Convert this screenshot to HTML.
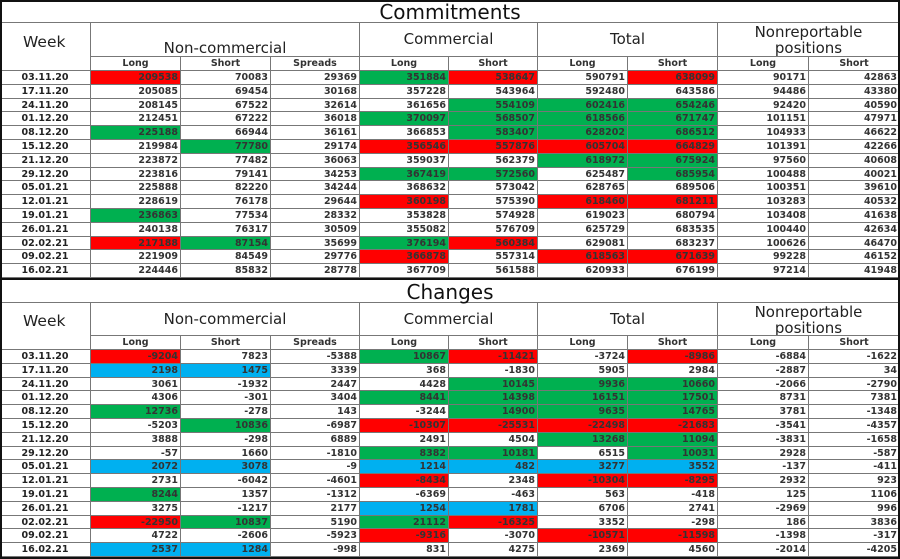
<!DOCTYPE html>
<html><head><meta charset="utf-8"><style>
body{margin:0;width:900px;height:559px;background:#fff;overflow:hidden;font-family:"DejaVu Sans","Liberation Sans",sans-serif;}
#root{position:relative;width:900px;height:559px;}
.c{position:absolute;box-sizing:border-box;border-right:1px solid #777;border-bottom:1px solid #777;font-size:9.5px;font-weight:bold;color:#333;line-height:13px;white-space:nowrap;overflow:hidden;}
.n{text-align:right;padding-right:2px;}
.w{text-align:center;color:#222;}
.sub{text-align:center;font-size:9.5px;color:#333;}
.grp{text-align:center;font-weight:normal;font-size:15px;color:#222;}
.title{position:absolute;left:0;width:900px;text-align:center;font-size:20px;color:#111;box-sizing:border-box;border-bottom:1px solid #777;}
.r{background:#ff0000;}.g{background:#00b050;}.b{background:#00b0f0;}
.frame{position:absolute;border:2px solid #111;box-sizing:border-box;pointer-events:none;}
</style></head><body>
<div id="root"></div>
<script>
const weeks=["03.11.20","17.11.20","24.11.20","01.12.20","08.12.20","15.12.20","21.12.20","29.12.20","05.01.21","12.01.21","19.01.21","26.01.21","02.02.21","09.02.21","16.02.21"];
const commitments=[
[209538,70083,29369,351884,538647,590791,638099,90171,42863],
[205085,69454,30168,357228,543964,592480,643586,94486,43380],
[208145,67522,32614,361656,554109,602416,654246,92420,40590],
[212451,67222,36018,370097,568507,618566,671747,101151,47971],
[225188,66944,36161,366853,583407,628202,686512,104933,46622],
[219984,77780,29174,356546,557876,605704,664829,101391,42266],
[223872,77482,36063,359037,562379,618972,675924,97560,40608],
[223816,79141,34253,367419,572560,625487,685954,100488,40021],
[225888,82220,34244,368632,573042,628765,689506,100351,39610],
[228619,76178,29644,360198,575390,618460,681211,103283,40532],
[236863,77534,28332,353828,574928,619023,680794,103408,41638],
[240138,76317,30509,355082,576709,625729,683535,100440,42634],
[217188,87154,35699,376194,560384,629081,683237,100626,46470],
[221909,84549,29776,366878,557314,618563,671639,99228,46152],
[224446,85832,28778,367709,561588,620933,676199,97214,41948]];
const commitColors=["r..gr.r..",".........","....ggg..","...gggg..","g...ggg..",".g.rrrr..",".....gg..","...gg.g..",".........","...r.rr..","g........",".........","rg.gr....","...r.rr..","........."];
const changes=[
[-9204,7823,-5388,10867,-11421,-3724,-8986,-6884,-1622],
[2198,1475,3339,368,-1830,5905,2984,-2887,34],
[3061,-1932,2447,4428,10145,9936,10660,-2066,-2790],
[4306,-301,3404,8441,14398,16151,17501,8731,7381],
[12736,-278,143,-3244,14900,9635,14765,3781,-1348],
[-5203,10836,-6987,-10307,-25531,-22498,-21683,-3541,-4357],
[3888,-298,6889,2491,4504,13268,11094,-3831,-1658],
[-57,1660,-1810,8382,10181,6515,10031,2928,-587],
[2072,3078,-9,1214,482,3277,3552,-137,-411],
[2731,-6042,-4601,-8434,2348,-10304,-8295,2932,923],
[8244,1357,-1312,-6369,-463,563,-418,125,1106],
[3275,-1217,2177,1254,1781,6706,2741,-2969,996],
[-22950,10837,5190,21112,-16325,3352,-298,186,3836],
[4722,-2606,-5923,-9316,-3070,-10571,-11598,-1398,-317],
[2537,1284,-998,831,4275,2369,4560,-2014,-4205]];
const changeColors=["r..gr.r..","bb.......","....ggg..","...gggg..","g...ggg..",".g.rrrr..",".....gg..","...gg.g..","bb.bbbb..","...r.rr..","g........","...bb....","rg.gr....","...r.rr..","bb......."];
const subLabels=["Long","Short","Spreads","Long","Short","Long","Short","Long","Short"];
const groups=[["Non-commercial",1,3],["Commercial",4,5],["Total",6,7],["Nonreportable<br>positions",8,9]];
const xs=[0,91,181,271,360,449,538,628,718,809,900];
const root=document.getElementById('root');
function cell(x,y,w,h,cls,html){const d=document.createElement('div');d.className='c '+cls;d.style.left=x+'px';d.style.top=y+'px';d.style.width=w+'px';d.style.height=h+'px';d.innerHTML=html;root.appendChild(d);return d;}
function section(top,title,data,colors,key){
  const t=document.createElement('div');t.className='title';t.style.top=top+'px';t.style.height='23px';t.style.lineHeight='25px';t.textContent=title;
  
  
  root.appendChild(t);
  const hy=top+23, sy=top+57-(key==='changes'?1:0), dy=top+71-(key==='changes'?1:0);
  const wk=cell(0,hy,91,dy-hy,'grp','');wk.style.lineHeight=(dy-hy-10)+'px';wk.style.textAlign='left';wk.style.paddingLeft='23px';wk.style.fontSize='15.5px';wk.textContent='Week';
  
  
  groups.forEach((g,gi)=>{
    const x=xs[g[1]],w=xs[g[2]+1]-x;
    const two=g[0].indexOf('<br>')>=0;
    const d=cell(x,hy,w,sy-hy,'grp',g[0]);
    d.style.lineHeight=two?'16px':((sy-hy)*(key==='changes'?1:1.45))+'px';
    if(two)d.style.paddingTop='1px';
    if(key==='commitments'&&gi>0&&!two){d.style.lineHeight='32px';}
    if(key==='commitments'&&gi==0){d.style.lineHeight='50px';}
    if(key==='changes'&&gi>0&&!two){d.style.lineHeight='32px';}
    
    
  });
  subLabels.forEach((s,i)=>{
    const d=cell(xs[i+1],sy,xs[i+2]-xs[i+1],dy-sy,'sub',s);
    
    
  });
  const rh=13.8;
  weeks.forEach((wkv,r)=>{
    const y=Math.round(dy+r*rh), h=Math.round(dy+(r+1)*rh)-y;
    const wc=cell(0,y,91,h,'w',wkv);
    
    
    data[r].forEach((v,i)=>{
      const cc=colors[r][i];const cls='n'+(cc==='.'?'':' '+cc);
      const d=cell(xs[i+1],y,xs[i+2]-xs[i+1],h,cls,String(v));
      
      
    });
  });
}
section(0,'Commitments',commitments,commitColors,'commitments');
section(280,'Changes',changes,changeColors,'changes');
const f1=document.createElement('div');f1.className='frame';f1.style.cssText='left:0;top:0;width:900px;height:280px;';


root.appendChild(f1);
const f2=document.createElement('div');f2.className='frame';f2.style.cssText='left:0;top:278px;width:900px;height:281px;';


root.appendChild(f2);
</script>
</body></html>
